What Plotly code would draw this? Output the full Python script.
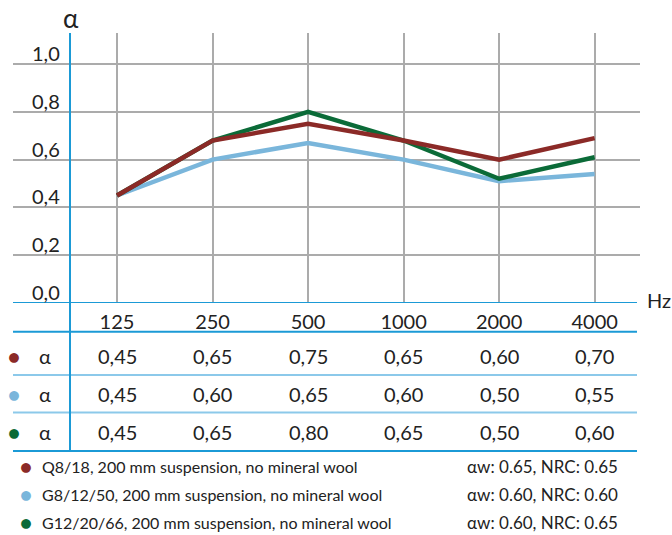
import plotly.graph_objects as go

freqs = ["125", "250", "500", "1000", "2000", "4000"]

# curves as drawn in the chart
q8_18 = [0.45, 0.68, 0.75, 0.68, 0.60, 0.69]
g8_12_50 = [0.45, 0.60, 0.67, 0.60, 0.51, 0.54]
g12_20_66 = [0.45, 0.68, 0.80, 0.68, 0.52, 0.61]

# values printed in the table
table_q8 = ["0,45", "0,65", "0,75", "0,65", "0,60", "0,70"]
table_g8 = ["0,45", "0,60", "0,65", "0,60", "0,50", "0,55"]
table_g12 = ["0,45", "0,65", "0,80", "0,65", "0,50", "0,60"]

names = ["Q8/18, 200 mm suspension, no mineral wool",
         "G8/12/50, 200 mm suspension, no mineral wool",
         "G12/20/66, 200 mm suspension, no mineral wool"]
ratings = ["αw: 0.65, NRC: 0.65", "αw: 0.60, NRC: 0.60", "αw: 0.60, NRC: 0.65"]

y_ticks = [0, 0.2, 0.4, 0.6, 0.8, 1.0]
y_labels = ["0,0", "0,2", "0,4", "0,6", "0,8", "1,0"]

red = "#8b2a27"
lblue = "#7ab6db"
green = "#0b6b38"
axblue = "#1b9ad6"
rowblue = "#8cc9ea"
grid = "#ababab"
font = "Lato"

x = list(range(len(freqs)))

fig = go.Figure()
# draw order: blue under green under red
for vals, col in [(g8_12_50, lblue), (g12_20_66, green), (q8_18, red)]:
    fig.add_trace(go.Scatter(x=x, y=vals, mode="lines",
                             line=dict(color=col, width=4.5), showlegend=False,
                             hoverinfo="skip"))

fig.update_layout(
    width=672, height=535,
    margin=dict(l=13, r=32, t=33, b=84),
    plot_bgcolor="white", paper_bgcolor="white",
    font=dict(family=font, color="#222222", size=20),
    xaxis=dict(range=[-1.089, 5.475], tickvals=x, ticktext=freqs,
               showgrid=True, gridcolor=grid, gridwidth=2,
               zeroline=False, showline=False, ticks="",
               ticklabelstandoff=5,
               tickfont=dict(size=20), fixedrange=True),
    yaxis=dict(range=[0, 1.13], domain=[0.354, 1], tickvals=y_ticks,
               showticklabels=False, showgrid=True, gridcolor=grid,
               gridwidth=2, zeroline=False, showline=False, ticks="",
               fixedrange=True),
)

# y tick labels sit just above the gridlines
for v, t in zip(y_ticks, y_labels):
    fig.add_annotation(x=0.0785, xref="paper", y=v, yref="y", text=t,
                       showarrow=False, xanchor="right", yanchor="bottom",
                       yshift=-3, font=dict(size=20))

fig.add_annotation(x=(71 - 13) / 627, xref="paper", y=1, yref="paper", text="α",
                   showarrow=False, xanchor="center", yanchor="middle",
                   yshift=15, font=dict(size=26))
fig.add_annotation(x=1.0, xref="paper", y=0, yref="y", text="Hz",
                   showarrow=False, xanchor="left", yanchor="middle",
                   xshift=5, yshift=3, font=dict(size=20))

# blue axis rules
line_right = (637 - 13) / 627
fig.add_shape(type="line", xref="paper", yref="y", x0=0, x1=line_right,
              y0=0, y1=0, line=dict(color=axblue, width=2))
for py, col in [(0.285, axblue), (0.182, rowblue), (0.092, rowblue), (0.0, axblue)]:
    fig.add_shape(type="line", xref="paper", yref="paper", x0=0, x1=line_right,
                  y0=py, y1=py, line=dict(color=col, width=2))
fig.add_shape(type="line", xref="paper", yref="paper", x0=(70 - 13) / 627,
              x1=(70 - 13) / 627, y0=0, y1=1, line=dict(color=axblue, width=2))

# table rows
rows = [(table_q8, red, 0.228), (table_g8, lblue, 0.136), (table_g12, green, 0.046)]
for vals, col, py in rows:
    fig.add_annotation(x=(14 - 13) / 627, xref="paper", y=py, yref="paper",
                       text="●", showarrow=False, xanchor="center", yanchor="middle",
                       font=dict(size=20, color=col))
    fig.add_annotation(x=(45 - 13) / 627, xref="paper", y=py, yref="paper",
                       text="α", showarrow=False, xanchor="center", yanchor="middle",
                       font=dict(size=20))
    for i, t in enumerate(vals):
        fig.add_annotation(x=i, xref="x", y=py, yref="paper", text=t,
                           showarrow=False, xanchor="center", yanchor="middle",
                           font=dict(size=20))

# legend lines under the table
for k, (nm, rt, col) in enumerate(zip(names, ratings, [red, lblue, green])):
    py = -0.036 - k * 0.067
    fig.add_annotation(x=(26 - 13) / 627, xref="paper", y=py, yref="paper",
                       text="●", showarrow=False, xanchor="center", yanchor="middle",
                       font=dict(size=20, color=col))
    fig.add_annotation(x=(40 - 13) / 627, xref="paper", y=py, yref="paper",
                       text=nm, showarrow=False, xanchor="left", yanchor="middle",
                       font=dict(size=16))
    fig.add_annotation(x=(465 - 13) / 627, xref="paper", y=py, yref="paper",
                       text=rt, showarrow=False, xanchor="left", yanchor="middle",
                       font=dict(size=17))

# drop the default 8px page margin so the figure fills the window exactly
fig.write_html("out.html", config={"displayModeBar": False},
               post_script="document.body.style.margin='0';"
                           "document.body.style.overflow='hidden';")
